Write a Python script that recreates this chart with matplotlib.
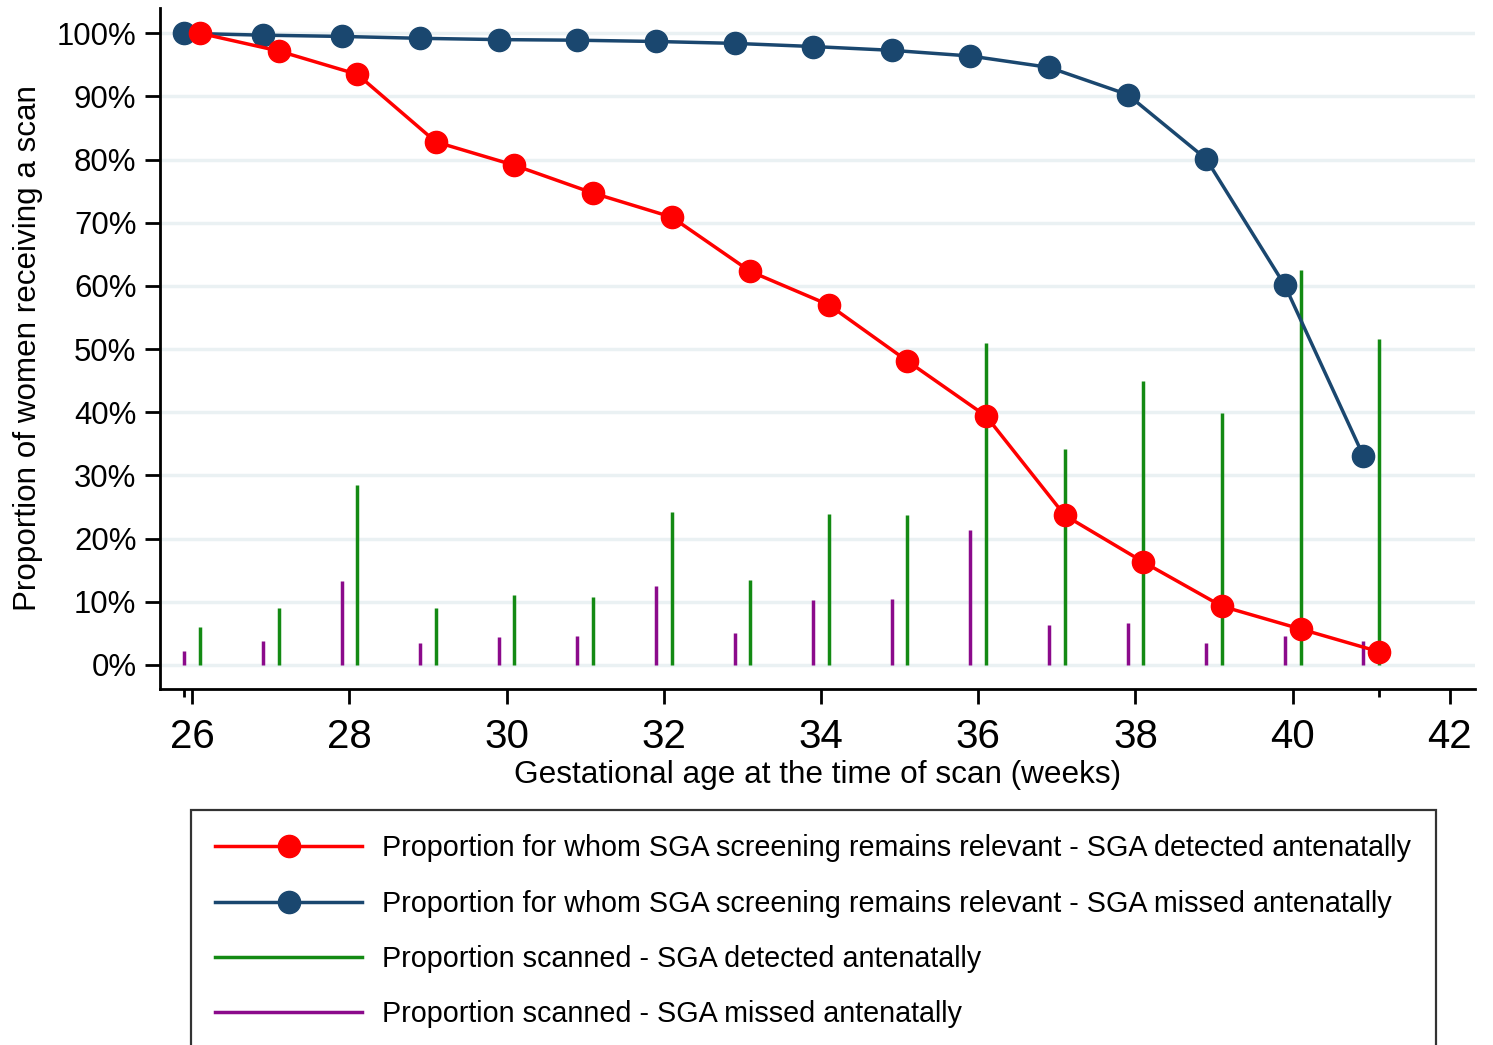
import numpy as np
import matplotlib
matplotlib.use("Agg")
from matplotlib.pyplot import figure
from matplotlib.lines import Line2D

# Gestational weeks
weeks = np.arange(26, 42)

# Proportion for whom SGA screening remains relevant (%)
relDetected = [100.0, 97.2, 93.5, 82.8, 79.1, 74.7, 70.9, 62.3,
               57.0, 48.1, 39.4, 23.7, 16.3, 9.3, 5.7, 2.1]
relMissed = [100.0, 99.7, 99.5, 99.2, 99.0, 98.9, 98.7, 98.4,
             97.9, 97.3, 96.4, 94.6, 90.3, 80.1, 60.1, 33.1]

# Proportion scanned (%)
scanDetected = [6.0, 9.0, 28.5, 9.0, 11.1, 10.8, 24.2, 13.4,
                23.9, 23.7, 50.9, 34.2, 44.9, 39.9, 62.5, 51.6]
scanMissed = [2.2, 3.8, 13.3, 3.5, 4.4, 4.6, 12.5, 5.1,
              10.3, 10.4, 21.4, 6.3, 6.6, 3.5, 4.6, 3.8]

labels = ["Proportion for whom SGA screening remains relevant - SGA detected antenatally",
          "Proportion for whom SGA screening remains relevant - SGA missed antenatally",
          "Proportion scanned - SGA detected antenatally",
          "Proportion scanned - SGA missed antenatally"]

red, navy, green, purple = "#ff0000", "#1a476f", "#138a13", "#8b0a8b"

xDet = weeks + 0.1      # detected series shifted right
xMis = weeks - 0.1      # missed series shifted left

matplotlib.rcParams["font.family"] = ["Liberation Sans", "DejaVu Sans"]

fig = figure(figsize=(14.93, 10.45), dpi=100)
frame = fig.add_axes([160/1493, 1-689/1045, (1475-160)/1493, (689-8)/1045])

# Horizontal grid
for g in range(0, 101, 10):
    frame.axhline(g, color="#eaf1f3", lw=2.5, zorder=0)

# Spikes
frame.vlines(xMis, 0, scanMissed, color=purple, lw=2.5, zorder=2)
frame.vlines(xDet, 0, scanDetected, color=green, lw=2.5, zorder=2)

# Lines
frame.plot(xMis, relMissed, color=navy, lw=2.5, marker="o", ms=16, zorder=3)
frame.plot(xDet, relDetected, color=red, lw=2.5, marker="o", ms=16, zorder=4)

frame.set_xlim(25.59, 42.32)
frame.set_ylim(-3.8, 104)

frame.set_xticks(range(26, 43, 2))
frame.set_xticks([25.9, 41.1], minor=True)
frame.set_yticks(range(0, 101, 10))
frame.set_yticklabels([f"{v}%" for v in range(0, 101, 10)])

frame.tick_params(axis="x", labelsize=29, length=11, width=2, pad=10)
frame.tick_params(axis="x", which="minor", length=6, width=2)
frame.tick_params(axis="y", labelsize=22.4, length=11, width=2, pad=6)

for side in ["top", "right"]:
    frame.spines[side].set_visible(False)
for side in ["left", "bottom"]:
    frame.spines[side].set_linewidth(2)

frame.set_xlabel("Gestational age at the time of scan (weeks)", fontsize=22.7, labelpad=3)
frame.set_ylabel("Proportion of women receiving a scan", fontsize=22.6, labelpad=10)

# Legend
handles = [Line2D([], [], color=red, lw=2.5, marker="o", ms=16),
           Line2D([], [], color=navy, lw=2.5, marker="o", ms=16),
           Line2D([], [], color=green, lw=2.5),
           Line2D([], [], color=purple, lw=2.5)]
leg = fig.legend(handles, labels, loc="upper left",
                 bbox_to_anchor=(191/1493, 1-810/1045), fontsize=20.7,
                 frameon=True, fancybox=False, edgecolor="black",
                 handlelength=5.1, handletextpad=0.7, labelspacing=0.95,
                 borderpad=0.85, borderaxespad=0)
leg.get_frame().set_linewidth(1.6)

fig.savefig("out.png", dpi=100)
